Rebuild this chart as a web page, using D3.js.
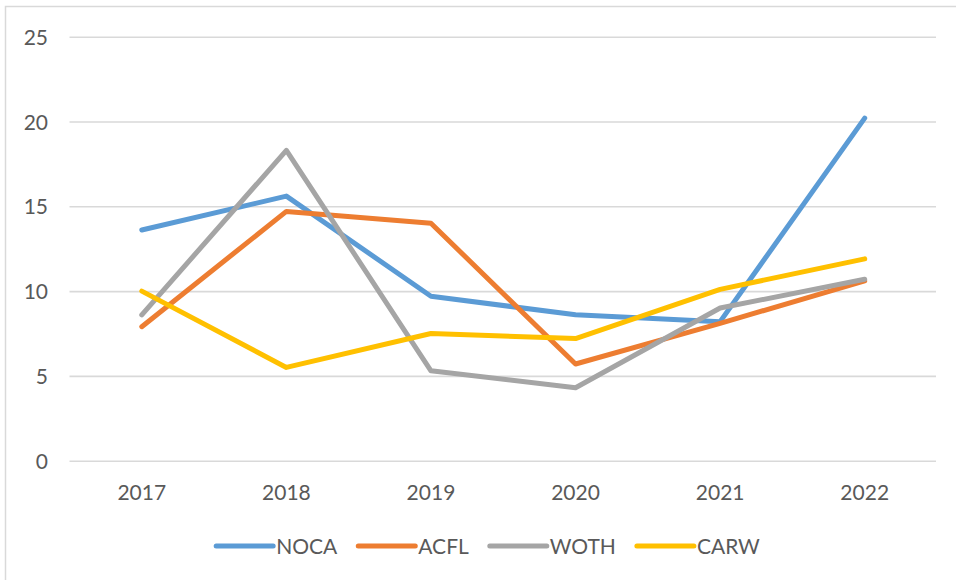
<!DOCTYPE html>
<html>
<head>
<meta charset="utf-8">
<script src="https://cdn.jsdelivr.net/npm/d3@7"></script>
<style>
  html, body { margin: 0; padding: 0; background: #ffffff; }
  svg { display: block; }
  text { font-family: Lato, "Open Sans", "Noto Sans", sans-serif; fill: #595959; }
</style>
</head>
<body>
<svg id="chart" width="956" height="580"></svg>
<script>
// ---- data ----
const years = ["2017", "2018", "2019", "2020", "2021", "2022"];
const seriesNames = ["NOCA", "ACFL", "WOTH", "CARW"];
const NOCA = [13.6, 15.6, 9.7, 8.6, 8.2, 20.2];
const ACFL = [7.9, 14.7, 14.0, 5.7, 8.1, 10.6];
const WOTH = [8.6, 18.3, 5.3, 4.3, 9.0, 10.7];
const CARW = [10.0, 5.5, 7.5, 7.2, 10.1, 11.9];
const yTicks = [0, 5, 10, 15, 20, 25];
const colors = ["#5B9BD5", "#ED7D31", "#A5A5A5", "#FFC000"];

const seriesValues = [NOCA, ACFL, WOTH, CARW];
const series = seriesNames.map((name, i) => ({
  name, color: colors[i],
  values: years.map((y, j) => ({ year: y, value: seriesValues[i][j] }))
}));

// ---- layout ----
const svg = d3.select("#chart");
const plot = { left: 69.5, right: 937, top: 36.7, bottom: 460.7 };
const fontSize = 21;

// chart border
svg.append("rect")
  .attr("x", 5.5).attr("y", 6.5)
  .attr("width", 1000).attr("height", 700)
  .attr("fill", "none").attr("stroke", "#d9d9d9").attr("stroke-width", 1.5);

const x = d3.scaleBand().domain(years).range([plot.left, plot.right]).padding(0);
const y = d3.scaleLinear().domain([0, 25]).range([plot.bottom, plot.top]);

// y axis with gridlines
const yAxis = svg.append("g")
  .attr("transform", `translate(${plot.left},0)`)
  .call(d3.axisLeft(y).tickValues(yTicks)
    .tickSize(-(936 - plot.left)).tickPadding(21.5).tickFormat(d3.format("d")));
yAxis.select(".domain").remove();
yAxis.selectAll(".tick line").attr("stroke", "#d9d9d9").attr("stroke-width", 1.6);
yAxis.selectAll(".tick text")
  .attr("font-size", fontSize).attr("fill", "#595959")
  .attr("font-family", "Lato, 'Open Sans', sans-serif")
  .attr("dy", "0.36em");

// x axis labels
const xAxis = svg.append("g")
  .attr("transform", `translate(0,${plot.bottom})`)
  .call(d3.axisBottom(x).tickSize(0).tickPadding(0));
xAxis.select(".domain").remove();
xAxis.selectAll(".tick text")
  .attr("font-size", fontSize).attr("fill", "#595959")
  .attr("font-family", "Lato, 'Open Sans', sans-serif")
  .attr("y", 39).attr("dy", null);

// lines
const line = d3.line()
  .x(d => x(d.year) + x.bandwidth() / 2)
  .y(d => y(d.value));

svg.append("g").selectAll("path")
  .data(series)
  .join("path")
  .attr("d", d => line(d.values))
  .attr("fill", "none")
  .attr("stroke", d => d.color)
  .attr("stroke-width", 5)
  .attr("stroke-linejoin", "round")
  .attr("stroke-linecap", "round");

// legend
const legendY = 546;
const lineLen = 57, textGap = 3, itemGap = 21;
const legend = svg.append("g");
const items = legend.selectAll("g").data(series).join("g");
items.append("line")
  .attr("x1", 0).attr("x2", lineLen)
  .attr("y1", legendY).attr("y2", legendY)
  .attr("stroke", d => d.color).attr("stroke-width", 5)
  .attr("stroke-linecap", "round");
items.append("text")
  .attr("x", lineLen + textGap).attr("y", legendY)
  .attr("dy", "0.36em")
  .attr("font-size", fontSize)
  .text(d => d.name);
let widths = [];
items.each(function() {
  widths.push(lineLen + textGap + d3.select(this).select("text").node().getComputedTextLength());
});
const total = d3.sum(widths) + itemGap * (widths.length - 1);
let cx = 488 - total / 2;
items.each(function(d, i) {
  d3.select(this).attr("transform", `translate(${cx},0)`);
  cx += widths[i] + itemGap;
});
</script>
</body>
</html>
